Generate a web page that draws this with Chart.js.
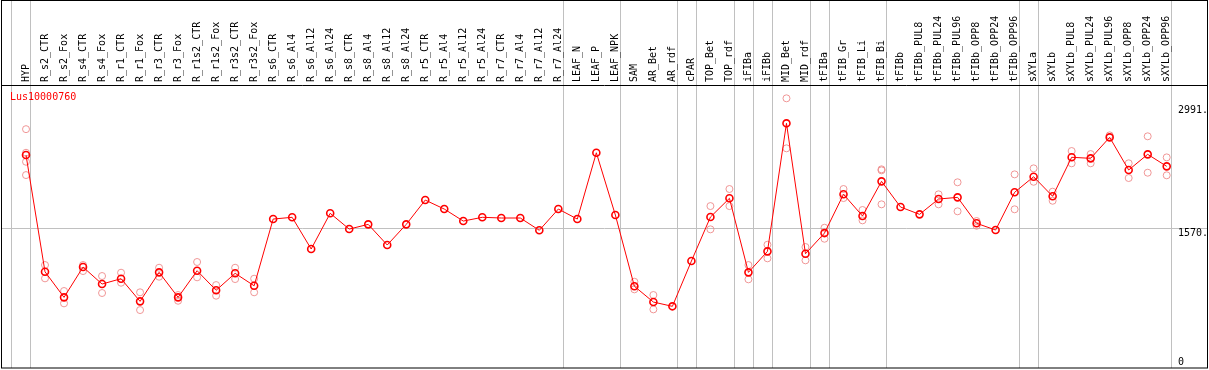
<!DOCTYPE html>
<html>
<head>
<meta charset="utf-8">
<script src="https://cdn.jsdelivr.net/npm/chart.js@4/dist/chart.umd.min.js"></script>
<style>
    html, body { margin: 0; padding: 0; background: #fff; }
    #box { width: 1209px; height: 370px; }
</style>
</head>
<body>
<div id="box"><canvas id="exprChart" width="1209" height="370"></canvas></div>
<script>
const geneName = 'Lus10000760';

const categories = ['HYP', 'R_s2_CTR', 'R_s2_Fox', 'R_s4_CTR', 'R_s4_Fox', 'R_r1_CTR', 'R_r1_Fox', 'R_r3_CTR', 'R_r3_Fox',
    'R_r1s2_CTR', 'R_r1s2_Fox', 'R_r3s2_CTR', 'R_r3s2_Fox', 'R_s6_CTR', 'R_s6_Al4', 'R_s6_Al12', 'R_s6_Al24',
    'R_s8_CTR', 'R_s8_Al4', 'R_s8_Al12', 'R_s8_Al24', 'R_r5_CTR', 'R_r5_Al4', 'R_r5_Al12', 'R_r5_Al24',
    'R_r7_CTR', 'R_r7_Al4', 'R_r7_Al12', 'R_r7_Al24', 'LEAF_N', 'LEAF_P', 'LEAF_NPK', 'SAM', 'AR_Bet', 'AR_rdf',
    'cPAR', 'TOP_Bet', 'TOP_rdf', 'iFIBa', 'iFIBb', 'MID_Bet', 'MID_rdf', 'tFIBa', 'tFIB_Gr', 'tFIB_Li', 'tFIB_Bi',
    'tFIBb', 'tFIBb_PUL8', 'tFIBb_PUL24', 'tFIBb_PUL96', 'tFIBb_OPP8', 'tFIBb_OPP24', 'tFIBb_OPP96',
    'sXYLa', 'sXYLb', 'sXYLb_PUL8', 'sXYLb_PUL24', 'sXYLb_PUL96', 'sXYLb_OPP8', 'sXYLb_OPP24', 'sXYLb_OPP96'];

// mean expression per sample
const meanValues = [2411, 1071, 777, 1125, 930, 991, 731, 1064, 777,
    1083, 858, 1053, 910, 1676, 1696, 1332, 1742,
    1561, 1615, 1378, 1615, 1894, 1791, 1653, 1696,
    1688, 1688, 1547, 1791, 1676, 2437, 1722, 904, 723, 674,
    1194, 1699, 1914, 1064, 1305, 2775, 1278, 1515, 1960, 1711, 2109,
    1814, 1730, 1906, 1925, 1627, 1550, 1983,
    2162, 1937, 2385, 2373, 2614, 2239, 2419, 2281];

// replicates (null where hidden behind the mean marker)
const repHigh = [2708, 1148, 850, 1148, 1022, 1060, 835, 1117, 804,
    1183, 918, 1117, 991, null, null, null, null,
    null, null, null, null, null, null, null, null,
    null, null, null, null, null, null, null, 956, 804, null,
    null, 1825, 2021, 1148, 1381, 3062, 1355, 1576, 2021, 1780, 2247,
    null, null, 1960, 2098, 1653, null, 2189,
    2258, 1990, 2457, 2422, 2637, 2316, 2626, 2384];
const repLow = [2181, 995, 708, 1079, 827, 945, 631, 1014, 738,
    1007, 796, 987, 835, null, null, null, null,
    null, null, null, null, null, null, null, null,
    null, null, null, null, null, null, null, 869, 639, null,
    null, 1558, 1825, 984, 1225, 2488, 1202, 1450, 1917, 1661, 1845,
    null, null, 1845, 1765, 1599, null, 1788,
    2104, 1886, 2316, 2316, null, 2147, 2208, 2178];
const repMid = [2437, null, null, null, null, null, null, null, null,
    null, null, null, null, null, null, null, null,
    null, null, null, null, null, null, null, null,
    null, null, null, null, null, null, null, null, null, null,
    null, null, null, null, null, null, null, null, null, null, 2235,
    null, null, null, null, null, null, null,
    null, null, null, null, null, null, null, null];
const repExtra = [2334, null, null, null, null, null, null, null, null,
    null, null, null, null, null, null, null, null,
    null, null, null, null, null, null, null, null,
    null, null, null, null, null, null, null, null, null, null,
    null, null, null, null, null, null, null, null, null, null, null,
    null, null, null, null, null, null, null,
    null, null, null, null, null, null, null, null];

// sample index after which a group separator is drawn
const groupEnds = [-1, 0, 28, 31, 34, 35, 37, 38, 39, 41, 42, 45, 52, 53, 60];

const yTickValues = [0, 1570, 2991];
const yTickLabels = ['0', '1570.', '2991.'];
const yGridValues = [1570];

const monoFont = '"DejaVu Sans Mono", "Liberation Mono", monospace';

function toPoints(arr) {
    return arr.map((v, i) => ({ x: i, y: v })).filter(p => p.y !== null);
}

const framePlugin = {
    id: 'frame',
    beforeDatasetsDraw(chart) {
        const { ctx, chartArea, scales } = chart;
        const x = scales.x, y = scales.y;
        ctx.save();
        ctx.strokeStyle = '#c0c0c0';
        ctx.lineWidth = 1;
        // group separators run through the header too
        groupEnds.forEach(g => {
            const px = Math.round(x.getPixelForValue(g + 0.22)) + 0.5;
            ctx.beginPath();
            ctx.moveTo(px, 0);
            ctx.lineTo(px, chartArea.bottom);
            ctx.stroke();
        });
        yGridValues.forEach(v => {
            const py = Math.round(y.getPixelForValue(v)) + 0.5;
            ctx.beginPath();
            ctx.moveTo(chartArea.left, py);
            ctx.lineTo(chartArea.right, py);
            ctx.stroke();
        });

        // sample names, rotated, sitting on the header line
        ctx.font = '10px ' + monoFont;
        ctx.fillStyle = '#000';
        ctx.textAlign = 'left';
        ctx.textBaseline = 'middle';
        categories.forEach((name, i) => {
            const px = x.getPixelForValue(i);
            ctx.save();
            ctx.translate(px, chartArea.top - 3);
            ctx.rotate(-Math.PI / 2);
            ctx.fillText(name, 0, 0);
            ctx.restore();
        });
        ctx.restore();
    },
    afterDraw(chart) {
        const { ctx, chartArea, scales } = chart;
        const y = scales.y;
        ctx.save();
        ctx.strokeStyle = '#000';
        ctx.lineWidth = 1;
        ctx.strokeRect(chartArea.left + 0.5, 0.5, chartArea.right - chartArea.left - 1, chartArea.bottom - 0.5);
        ctx.beginPath();
        ctx.moveTo(chartArea.left, chartArea.top + 0.5);
        ctx.lineTo(chartArea.right, chartArea.top + 0.5);
        ctx.stroke();

        ctx.font = '10px ' + monoFont;
        ctx.fillStyle = '#000';
        ctx.textAlign = 'left';
        ctx.textBaseline = 'alphabetic';
        yTickValues.forEach((v, i) => {
            const py = y.getPixelForValue(v);
            const base = v === 0 ? py : py + 8;
            ctx.fillText(yTickLabels[i], chartArea.right - 30, base);
        });

        ctx.fillStyle = '#ff0000';
        ctx.fillText(geneName, chartArea.left + 9, chartArea.top + 15);
        ctx.restore();
    }
};

function repDataset(arr) {
    return {
        data: toPoints(arr),
        showLine: false,
        pointStyle: 'circle',
        pointRadius: 3.5,
        pointBorderWidth: 1,
        pointBorderColor: 'rgba(238, 140, 140, 0.9)',
        pointBackgroundColor: 'rgba(0,0,0,0)'
    };
}

function renderChart() {
    const ctx = document.getElementById('exprChart').getContext('2d');
    new Chart(ctx, {
        type: 'scatter',
        data: {
            datasets: [{
                data: toPoints(meanValues),
                showLine: true,
                borderColor: '#ff0000',
                borderWidth: 1,
                tension: 0,
                pointStyle: 'circle',
                pointRadius: 3.5,
                pointBorderWidth: 1.6,
                pointBorderColor: '#ff0000',
                pointBackgroundColor: 'rgba(0,0,0,0)'
            },
            repDataset(repHigh),
            repDataset(repLow),
            repDataset(repMid),
            repDataset(repExtra)]
        },
        options: {
            responsive: false,
            animation: false,
            devicePixelRatio: 1,
            layout: { autoPadding: false, padding: { left: 1, right: 1, top: 0, bottom: 2 } },
            plugins: {
                legend: { display: false },
                tooltip: { enabled: false }
            },
            scales: {
                x: {
                    type: 'linear',
                    position: 'top',
                    min: -1.315,
                    max: 62.172,
                    bounds: 'data',
                    afterFit: axis => {
                        axis.height = 85;
                        axis.paddingLeft = 0;
                        axis.paddingRight = 0;
                    },
                    grid: { display: false, drawTicks: false },
                    border: { display: false },
                    ticks: { display: false }
                },
                y: {
                    type: 'linear',
                    position: 'right',
                    min: -34,
                    max: 3215,
                    bounds: 'data',
                    afterFit: axis => {
                        axis.width = 0;
                        axis.paddingTop = 0;
                        axis.paddingBottom = 0;
                    },
                    grid: { display: false, drawTicks: false },
                    border: { display: false },
                    ticks: { display: false }
                }
            }
        },
        plugins: [framePlugin]
    });
}

renderChart();
</script>
</body>
</html>
